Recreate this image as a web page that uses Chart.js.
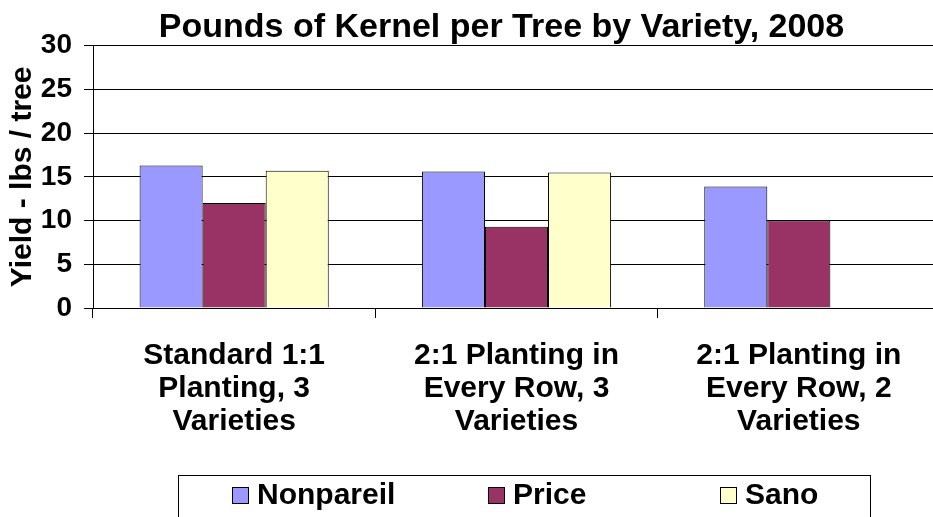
<!DOCTYPE html>
<html>
<head>
<meta charset="utf-8">
<script src="https://cdn.jsdelivr.net/npm/chart.js@4"></script>
<style>
    body { margin: 0; overflow: hidden; background: #fff; }
    #wrap { width: 1000px; height: 517px; }
</style>
</head>
<body>
<div id="wrap"><canvas id="myChart" width="1000" height="517"></canvas></div>
<script>
const categories = [
    ['Standard 1:1', 'Planting, 3', 'Varieties'],
    ['2:1 Planting in', 'Every Row, 3', 'Varieties'],
    ['2:1 Planting in', 'Every Row, 2', 'Varieties']
];
const nonpareil = [16.3, 15.6, 13.9];
const price = [12.0, 9.3, 10.0];
const sano = [15.7, 15.5, null];
const yTicks = [0, 5, 10, 15, 20, 25, 30];

const FONT = '"Liberation Sans", Arial, sans-serif';

// excel style legend: boxed row under the chart
const boxLegend = {
    id: 'boxLegend',
    afterDraw(chart) {
        const ctx = chart.ctx;
        const top = chart.height - 42;
        const itemX = [232, 488, 720];
        ctx.save();
        ctx.strokeStyle = '#000';
        ctx.lineWidth = 1;
        ctx.strokeRect(178.5, top + 0.5, 692, 80);
        ctx.font = 'bold 30px ' + FONT;
        ctx.textBaseline = 'middle';
        chart.data.datasets.forEach(function(ds, i) {
            const x = itemX[i];
            const y = top + 20;
            ctx.fillStyle = ds.backgroundColor;
            ctx.fillRect(x, y - 8, 17, 17);
            ctx.strokeStyle = '#000';
            ctx.strokeRect(x + 0.5, y - 7.5, 16, 16);
            ctx.fillStyle = '#000';
            ctx.fillText(ds.label, x + 25, y + 1);
        });
        ctx.restore();
    }
};

const ctx = document.getElementById('myChart').getContext('2d');
const myChart = new Chart(ctx, {
    type: 'bar',
    data: {
        labels: categories,
        datasets: [
            { label: 'Nonpareil', data: nonpareil, backgroundColor: '#9999FF' },
            { label: 'Price', data: price, backgroundColor: '#993366' },
            { label: 'Sano', data: sano, backgroundColor: '#FFFFCC' }
        ]
    },
    options: {
        responsive: false,
        animation: false,
        devicePixelRatio: 1,
        layout: { padding: { left: 3, right: 0, top: 0, bottom: 58 } },
        datasets: {
            bar: {
                borderColor: '#000',
                borderWidth: 1,
                categoryPercentage: 0.67,
                barPercentage: 1.0
            }
        },
        plugins: {
            legend: { display: false },
            tooltip: { enabled: false },
            title: {
                display: true,
                text: 'Pounds of Kernel per Tree by Variety, 2008',
                color: '#000',
                font: { family: FONT, size: 34, weight: 'bold', lineHeight: 1.05 },
                padding: { top: 10, bottom: 0 }
            }
        },
        scales: {
            x: {
                grid: {
                    drawOnChartArea: false,
                    offset: true,
                    tickLength: 10,
                    color: '#000'
                },
                border: { color: '#000', width: 1 },
                ticks: {
                    color: '#000',
                    font: { family: FONT, size: 30, weight: 'bold', lineHeight: 1.1 },
                    padding: 21,
                    maxRotation: 0,
                    autoSkip: false
                }
            },
            y: {
                min: 0,
                max: 30,
                afterBuildTicks: function(axis) {
                    axis.ticks = yTicks.map(v => ({ value: v }));
                },
                afterFit: function(axis) {
                    axis.width = 90;
                },
                grid: { color: '#000', tickLength: 9 },
                border: { color: '#000', width: 1 },
                ticks: {
                    color: '#000',
                    font: { family: FONT, size: 28, weight: 'bold' },
                    padding: 12
                },
                title: {
                    display: true,
                    text: 'Yield - lbs / tree',
                    color: '#000',
                    font: { family: FONT, size: 30, weight: 'bold', lineHeight: 1.1 },
                    padding: { top: 3, bottom: 0 }
                }
            },
            // empty right axis, only keeps the plot running off the right edge
            yRight: {
                position: 'right',
                display: true,
                min: 0,
                max: 30,
                grid: { display: false },
                border: { display: false },
                ticks: { display: false },
                afterFit: function(axis) {
                    axis.width = 60;
                }
            }
        }
    },
    plugins: [boxLegend]
});
</script>
</body>
</html>
